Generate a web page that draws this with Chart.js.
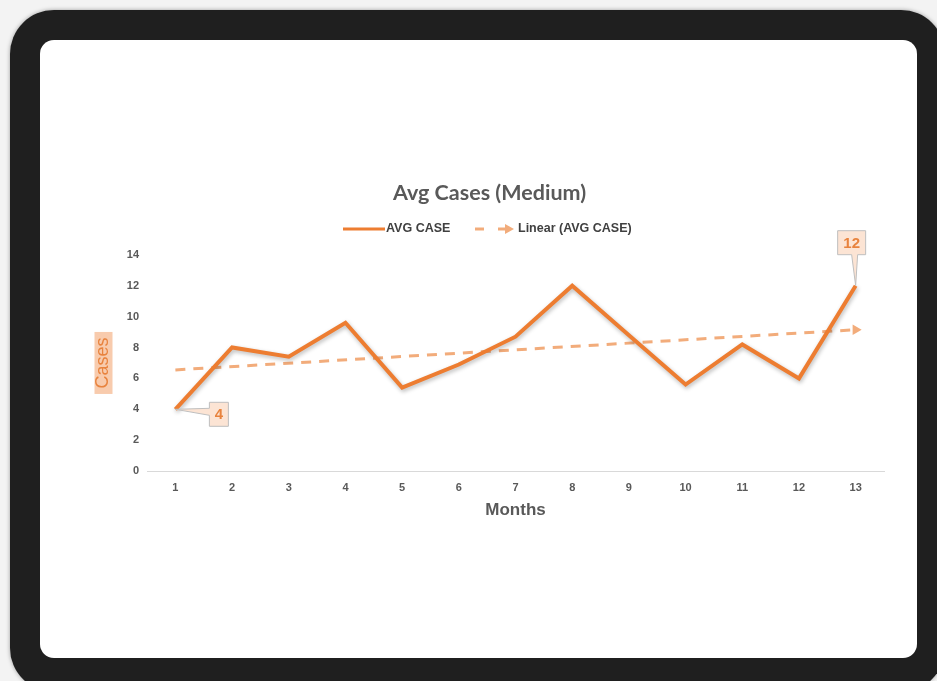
<!DOCTYPE html>
<html>
<head>
<meta charset="utf-8">
<script src="https://cdn.jsdelivr.net/npm/chart.js@4.4.1/dist/chart.umd.min.js"></script>
<style>
	html, body { margin: 0; padding: 0; }
	body { width: 937px; height: 681px; overflow: hidden; background: #f3f3f3; position: relative; }
	.frame { position: absolute; left: 10px; top: 10px; width: 935px; height: 682px; background: #1f1f1f; border-radius: 44px; box-shadow: 0 0 4px rgba(0,0,0,0.35); }
	.screen { position: absolute; left: 40px; top: 40px; width: 877px; height: 618px; background: #fff; border-radius: 14px; overflow: hidden; }
	canvas { display: block; }
</style>
</head>
<body>
<div class="frame"></div>
<div class="screen"><canvas id="chart" width="877" height="618"></canvas></div>
<script>
// Chart data
const months = ['1', '2', '3', '4', '5', '6', '7', '8', '9', '10', '11', '12', '13'];
const avgCase = [4, 8.0, 7.4, 9.6, 5.4, 6.9, 8.7, 12, 8.8, 5.6, 8.2, 6.0, 12];
// Excel linear trendline, only its two ends are drawn
const trendLine = [6.55, null, null, null, null, null, null, null, null, null, null, null, 9.15];
const labelledPoints = [0, 12];

const ORANGE = '#ED7D31';
const LIGHT_ORANGE = '#F2AC7B';
const FONT = '"Liberation Sans", Arial, sans-serif';

// Extra drawing: axis title box, legend, data callouts, line shadow
const extras = {
	id: 'extras',
	beforeDraw(chart) {
		const ctx = chart.ctx;
		const y = chart.scales.y;
		const t = y.options.title;
		const cx = y.left + t.padding.top + 10.8;
		const cy = (chart.chartArea.top + chart.chartArea.bottom) / 2;
		ctx.save();
		ctx.fillStyle = '#F8CBAD';
		ctx.fillRect(cx - 9, cy - 31, 18, 62);
		ctx.restore();
	},
	beforeDatasetDraw(chart, args) {
		if (args.index !== 0) return;
		const ctx = chart.ctx;
		ctx.save();
		ctx.shadowColor = 'rgba(0,0,0,0.28)';
		ctx.shadowBlur = 4;
		ctx.shadowOffsetX = 1;
		ctx.shadowOffsetY = 2;
	},
	afterDatasetDraw(chart, args) {
		if (args.index === 0) chart.ctx.restore();
	},
	afterDraw(chart) {
		const ctx = chart.ctx;
		ctx.save();

		// Legend
		const ly = 189;
		ctx.lineCap = 'butt';
		ctx.strokeStyle = ORANGE;
		ctx.lineWidth = 3;
		ctx.beginPath(); ctx.moveTo(303, ly); ctx.lineTo(345, ly); ctx.stroke();
		ctx.strokeStyle = LIGHT_ORANGE;
		ctx.beginPath(); ctx.moveTo(435, ly); ctx.lineTo(444, ly); ctx.stroke();
		ctx.beginPath(); ctx.moveTo(458, ly); ctx.lineTo(467, ly); ctx.stroke();
		ctx.fillStyle = LIGHT_ORANGE;
		ctx.beginPath(); ctx.moveTo(474, ly); ctx.lineTo(465, ly - 5); ctx.lineTo(465, ly + 5); ctx.closePath(); ctx.fill();
		ctx.fillStyle = '#404040';
		ctx.font = 'bold 12.5px ' + FONT;
		ctx.textBaseline = 'middle';
		ctx.textAlign = 'left';
		ctx.fillText('AVG CASE', 346, ly);
		ctx.fillText('Linear (AVG CASE)', 478, ly);

		// Callouts on first and last point
		const meta = chart.getDatasetMeta(0);
		const boxes = {
			0: { dx: 43.5, dy: 5, w: 19, h: 24, tail: 'left' },
			12: { dx: -4, dy: -43, w: 28, h: 24, tail: 'bottom' },
		};
		labelledPoints.forEach(i => {
			const p = meta.data[i];
			const b = boxes[i];
			const cx = p.x + b.dx, cy = p.y + b.dy;
			const l = cx - b.w / 2, r = cx + b.w / 2, t = cy - b.h / 2, bt = cy + b.h / 2;
			ctx.beginPath();
			ctx.moveTo(l, t); ctx.lineTo(r, t); ctx.lineTo(r, bt);
			if (b.tail === 'bottom') {
				ctx.lineTo(cx + 6, bt); ctx.lineTo(p.x, p.y); ctx.lineTo(cx, bt);
				ctx.lineTo(l, bt); ctx.closePath();
			} else {
				ctx.lineTo(l, bt); ctx.lineTo(l, cy + 1); ctx.lineTo(p.x, p.y); ctx.lineTo(l, cy - 6);
				ctx.closePath();
			}
			ctx.fillStyle = '#FCE4D4';
			ctx.fill();
			ctx.strokeStyle = '#BFBFBF';
			ctx.lineWidth = 1;
			ctx.stroke();
			ctx.fillStyle = '#E8833E';
			ctx.font = 'bold 15px ' + FONT;
			ctx.textAlign = 'center';
			ctx.fillText(String(avgCase[i]), cx, cy + 1);
		});
		ctx.restore();
	}
};

function makeChart() {
	const context = document.querySelector('#chart');

	return new Chart(context, {
		type: 'line',
		data: {
			labels: months,
			datasets: [
				{
					label: 'AVG CASE',
					data: avgCase,
					borderColor: ORANGE,
					borderWidth: 4,
					pointRadius: 0,
					tension: 0,
					order: 1,
				},
				{
					label: 'Linear (AVG CASE)',
					data: trendLine,
					spanGaps: true,
					borderColor: LIGHT_ORANGE,
					backgroundColor: LIGHT_ORANGE,
					borderWidth: 3,
					borderDash: [10, 8],
					pointStyle: 'triangle',
					rotation: 90,
					pointRadius: ctx => ctx.dataIndex === 12 ? 6 : 0,
					pointBorderWidth: 0,
					order: 2,
				},
			]
		},
		options: {
			responsive: false,
			animation: false,
			devicePixelRatio: 1,
			layout: { padding: { top: 0, left: 55, right: 33, bottom: 138 } },
			plugins: {
				legend: { display: false },
				tooltip: { enabled: false },
				title: {
					display: true,
					text: 'Avg Cases (Medium)',
					color: '#595959',
					font: { family: 'Lato, ' + FONT, size: 21.5, weight: 'bold' },
					padding: { top: 140, bottom: 49 },
				},
			},
			scales: {
				x: {
					offset: true,
					grid: { display: false, drawTicks: false },
					border: { display: true, color: '#D9D9D9', width: 1 },
					ticks: { color: '#595959', padding: 10.5, font: { family: FONT, size: 11, weight: 'bold' } },
					title: {
						display: true,
						text: 'Months',
						color: '#595959',
						font: { family: FONT, size: 17, weight: 'bold', lineHeight: 1.1 },
						padding: { top: -4, bottom: 0 },
					},
				},
				y: {
					min: 0,
					max: 14,
					grid: { display: false, drawTicks: false },
					border: { display: false },
					ticks: { stepSize: 2, color: '#595959', padding: 8, font: { family: FONT, size: 11, weight: 'bold' } },
					title: {
						display: true,
						text: 'Cases',
						color: '#E8833E',
						font: { family: FONT, size: 18 },
						padding: { top: -2.3, bottom: 4.5 },
					},
				},
			}
		},
		plugins: [extras]
	});
}

window.onload = () => {
	makeChart();
};
</script>
</body>
</html>
